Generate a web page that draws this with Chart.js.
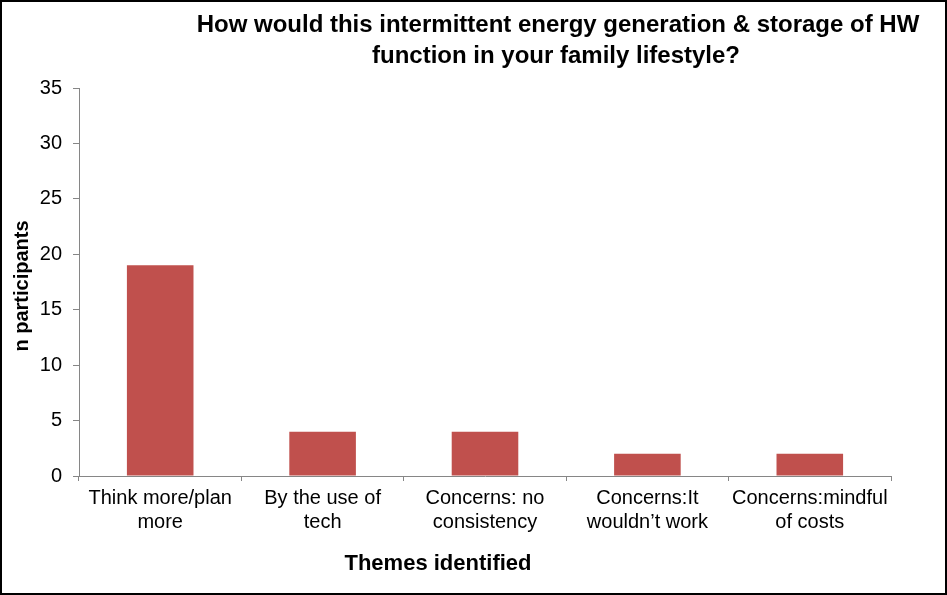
<!DOCTYPE html>
<html>
<head>
<meta charset="utf-8">
<script src="https://cdn.jsdelivr.net/npm/chart.js@4"></script>
<style>
  body { margin: 0; background: #fff; }
</style>
</head>
<body>
<canvas id="grafico" width="947" height="595"></canvas>
<script>
// dados do gráfico
const temas = [
    ["Think more/plan", "more"],
    ["By the use of", "tech"],
    ["Concerns: no", "consistency"],
    ["Concerns:It", "wouldn\u2019t work"],
    ["Concerns:mindful", "of costs"]
];
const participantes = [19, 4, 4, 2, 2];
const titulo = [
    "How would this intermittent energy generation & storage of HW",
    "function in your family lifestyle?"
];
const tituloX = "Themes identified";
const tituloY = "n participants";

const fonte = "'Liberation Sans', Arial, sans-serif";

// desenha títulos e moldura à mão, para ficar igual ao original
const textosPlugin = {
    id: "textos",
    afterDraw(chart) {
        const ctx = chart.ctx;
        ctx.save();
        ctx.fillStyle = "#000";
        ctx.textAlign = "center";
        ctx.textBaseline = "middle";
        ctx.font = "bold 24px " + fonte;
        ctx.fillText(titulo[0], 558, 25);
        ctx.fillText(titulo[1], 556, 56);

        ctx.font = "bold 22px " + fonte;
        ctx.fillText(tituloX, 438, 564);

        ctx.translate(22, 286);
        ctx.rotate(-Math.PI / 2);
        ctx.font = "bold 20px " + fonte;
        ctx.fillText(tituloY, 0, 0);
        ctx.restore();

        ctx.save();
        ctx.strokeStyle = "#000";
        ctx.lineWidth = 2;
        ctx.strokeRect(1, 1, chart.width - 2, chart.height - 2);
        ctx.restore();
    }
};

const ctx = document.getElementById("grafico").getContext("2d");

new Chart(ctx, {
    type: "bar",
    data: {
        labels: temas,
        datasets: [{
            data: participantes,
            backgroundColor: "#C0504D",
            barPercentage: 0.41,
            categoryPercentage: 1
        }]
    },
    options: {
        responsive: false,
        animation: false,
        layout: { padding: { top: 88, right: 56, left: 0, bottom: 0 } },
        plugins: {
            legend: { display: false },
            tooltip: { enabled: false }
        },
        scales: {
            x: {
                afterFit(scale) { scale.height = 119; },
                grid: { drawOnChartArea: false, tickLength: 5, color: "#868686", offset: true },
                border: { color: "#868686", width: 1 },
                ticks: {
                    color: "#000",
                    padding: 5,
                    maxRotation: 0,
                    autoSkip: false,
                    font: { family: fonte, size: 20, lineHeight: 1.2 }
                }
            },
            y: {
                min: 0,
                max: 35,
                afterFit(scale) { scale.width = 79; },
                grid: { drawOnChartArea: false, tickLength: 6, color: "#868686" },
                border: { color: "#868686", width: 1 },
                ticks: {
                    stepSize: 5,
                    color: "#000",
                    padding: 11,
                    font: { family: fonte, size: 20 }
                }
            }
        }
    },
    plugins: [textosPlugin]
});
</script>
</body>
</html>
